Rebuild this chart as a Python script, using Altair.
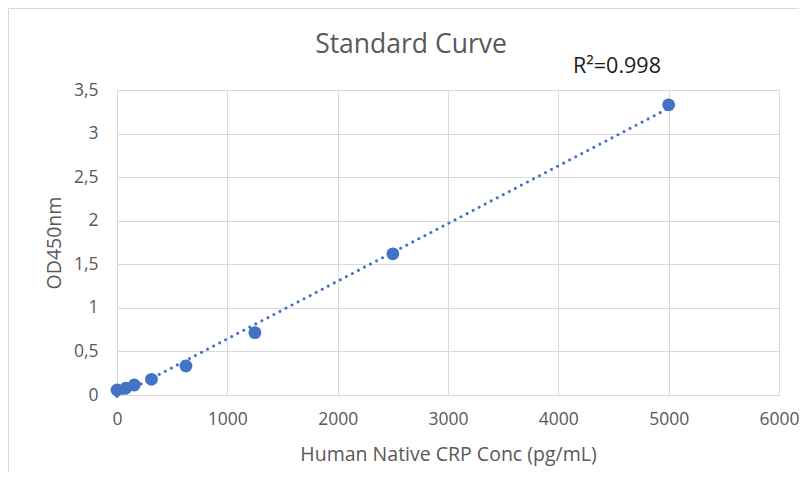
import altair as alt
import pandas as pd

# Data
conc = [0, 78.125, 156.25, 312.5, 625, 1250, 2500, 5000]
od450 = [0.057, 0.077, 0.115, 0.18, 0.333, 0.716, 1.62, 3.33]
title_text = ["Standard Curve"]
r2_label = ["R²=0.998"]
x_ticks = [0, 1000, 2000, 3000, 4000, 5000, 6000]
y_ticks = [0, 0.5, 1, 1.5, 2, 2.5, 3, 3.5]

df = pd.DataFrame({"conc": conc, "od": od450})

W, H = 662, 305
FONT = "Open Sans"
GRAY = "#595959"
BLUE = "#4472C4"

xscale = alt.Scale(domain=[0, 6000], nice=False)
yscale = alt.Scale(domain=[0, 3.5], nice=False)

xaxis = alt.Axis(values=x_ticks, format="d", title="Human Native CRP Conc (pg/mL)",
                 grid=True, gridColor="#d9d9d9", domain=False, ticks=False, labelFlush=False,
                 labelPadding=15, titlePadding=18, labelFontSize=17.5, titleFontSize=19.5,
                 labelColor=GRAY, titleColor=GRAY, labelFont=FONT, titleFont=FONT,
                 titleFontWeight="normal")
yaxis = alt.Axis(values=y_ticks, title="OD450nm",
                 labelExpr="replace(format(datum.value, '~g'), '.', ',')",
                 grid=True, gridColor="#d9d9d9", domain=False, ticks=False, labelFlush=False,
                 labelPadding=19, titlePadding=9, labelFontSize=17.5, titleFontSize=19.5,
                 labelColor=GRAY, titleColor=GRAY, labelFont=FONT, titleFont=FONT,
                 titleFontWeight="normal")

base = alt.Chart(df)

points = base.mark_circle(size=165, color=BLUE, opacity=1).encode(
    x=alt.X("conc:Q", scale=xscale, axis=xaxis),
    y=alt.Y("od:Q", scale=yscale, axis=yaxis),
)

trend = base.transform_regression("conc", "od", method="linear", extent=[0, 5000]).mark_line(
    color=BLUE, strokeWidth=3, strokeDash=[0.01, 6.8], strokeCap="round"
).encode(
    x=alt.X("conc:Q", scale=xscale),
    y=alt.Y("od:Q", scale=yscale),
)

r2 = alt.Chart(pd.DataFrame({"t": r2_label})).mark_text(
    font=FONT, fontSize=21.5, color="#1a1a1a", align="center", baseline="middle"
).encode(text="t:N", x=alt.value(500), y=alt.value(-23))

title = alt.Chart(pd.DataFrame({"t": title_text})).mark_text(
    font=FONT, fontSize=26.5, color=GRAY, align="center", baseline="middle"
).encode(text="t:N", x=alt.value(294), y=alt.value(-45))

border = alt.Chart(pd.DataFrame({"a": [0]})).mark_rect(
    fill=None, stroke="#d9d9d9", strokeWidth=1, clip=False
).encode(x=alt.value(-108.5), y=alt.value(-81.5), x2=alt.value(W + 21.5), y2=alt.value(H + 120))

chart = alt.layer(border, trend, points, r2, title).properties(
    width=W, height=H,
    autosize=alt.AutoSizeParams(type="none"),
    padding={"left": 109, "top": 82, "right": 20, "bottom": 77},
).configure_view(stroke=None).configure(background="white")

chart.save("out.html", embed_options={"renderer": "svg", "actions": False})
